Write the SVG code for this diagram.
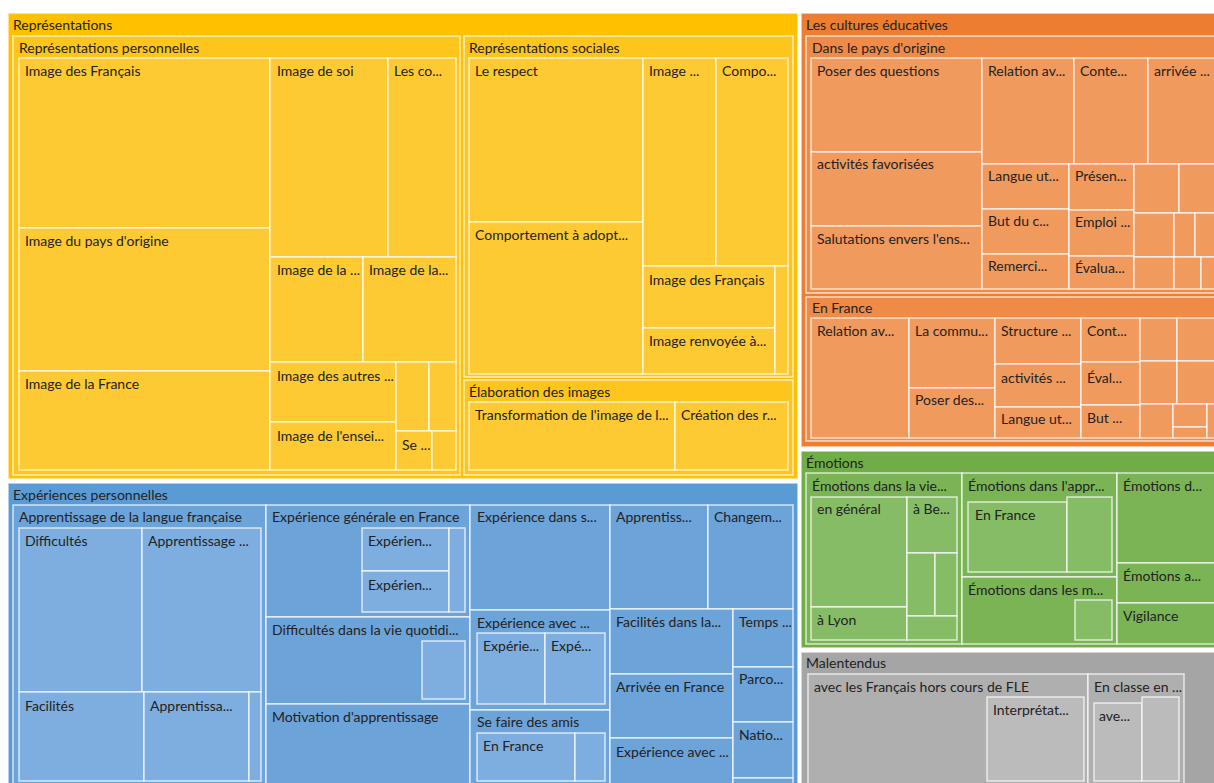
<svg xmlns="http://www.w3.org/2000/svg" width="1214" height="783" viewBox="0 0 1214 783">
<style>
rect{stroke:#ffffff;stroke-opacity:0.72;stroke-width:1.5}
.y1{fill:#FFC000}.y2{fill:#FEC51C}.y3{fill:#FDCA34}
.b1{fill:#5B9BD5}.b2{fill:#6CA3D9}.b3{fill:#7EAEDF}
.o1{fill:#ED7D31}.o2{fill:#EF8B47}.o3{fill:#F19A5E}
.g1{fill:#70AD47}.g2{fill:#7AB455}.g3{fill:#87BC66}
.k1{fill:#A5A5A5}.k2{fill:#AFAFAF}.k3{fill:#BBBBBB}
text{font-family:Lato,"Open Sans","Liberation Sans",sans-serif;font-size:14px;fill:#222222;transform:translateY(1px)}
</style>
<rect x="0" y="0" width="1214" height="783" fill="#ffffff" style="stroke:none"/>
<g id="connectors"/>
<g id="n-representations">
<rect class="y1" x="8" y="13" width="790" height="466"/><text x="13" y="29">Représentations</text>
<g id="n-rep-perso">
<rect class="y2" x="13" y="36" width="447" height="439"/><text x="19" y="52">Représentations personnelles</text>
<g id="n-rp-1"><rect class="y3" x="19" y="58" width="251" height="170"/><text x="25" y="75">Image des Français</text></g>
<g id="n-rp-2"><rect class="y3" x="19" y="228" width="251" height="143"/><text x="25" y="245">Image du pays d'origine</text></g>
<g id="n-rp-3"><rect class="y3" x="19" y="371" width="251" height="99"/><text x="25" y="388">Image de la France</text></g>
<g id="n-rp-4"><rect class="y3" x="270" y="58" width="118" height="199"/><text x="277" y="75">Image de soi</text></g>
<g id="n-rp-5"><rect class="y3" x="388" y="58" width="68" height="199"/><text x="394" y="75">Les co...</text></g>
<g id="n-rp-6"><rect class="y3" x="270" y="257" width="93" height="105"/><text x="277" y="274">Image de la ...</text></g>
<g id="n-rp-7"><rect class="y3" x="363" y="257" width="93" height="105"/><text x="369" y="274">Image de la...</text></g>
<g id="n-rp-8"><rect class="y3" x="270" y="362" width="126" height="60"/><text x="277" y="380">Image des autres ...</text></g>
<g id="n-rp-9"><rect class="y3" x="270" y="422" width="126" height="48"/><text x="277" y="440">Image de l'ensei...</text></g>
<g id="n-rp-10"><rect class="y3" x="396" y="362" width="33" height="69"/></g>
<g id="n-rp-11"><rect class="y3" x="429" y="362" width="27" height="69"/></g>
<g id="n-rp-12"><rect class="y3" x="396" y="431" width="36" height="39"/><text x="402" y="449">Se ...</text></g>
<g id="n-rp-13"><rect class="y3" x="432" y="431" width="24" height="39"/></g>
</g>
<g id="n-rep-soc">
<rect class="y2" x="464" y="36" width="329" height="341"/><text x="469" y="52">Représentations sociales</text>
<g id="n-rs-1"><rect class="y3" x="469" y="58" width="174" height="164"/><text x="475" y="75">Le respect</text></g>
<g id="n-rs-2"><rect class="y3" x="469" y="222" width="174" height="152"/><text x="475" y="239">Comportement à adopt...</text></g>
<g id="n-rs-3"><rect class="y3" x="643" y="58" width="73" height="208"/><text x="649" y="75">Image ...</text></g>
<g id="n-rs-4"><rect class="y3" x="716" y="58" width="72" height="208"/><text x="722" y="75">Compo...</text></g>
<g id="n-rs-5"><rect class="y3" x="643" y="266" width="132" height="62"/><text x="649" y="284">Image des Français</text></g>
<g id="n-rs-6"><rect class="y3" x="643" y="328" width="132" height="46"/><text x="649" y="345">Image renvoyée à...</text></g>
<g id="n-rs-7"><rect class="y3" x="775" y="266" width="13" height="108"/></g>
</g>
<g id="n-elab">
<rect class="y2" x="464" y="380" width="329" height="95"/><text x="469" y="396">Élaboration des images</text>
<g id="n-el-1"><rect class="y3" x="469" y="402" width="206" height="68"/><text x="475" y="419">Transformation de l'image de l...</text></g>
<g id="n-el-2"><rect class="y3" x="675" y="402" width="113" height="68"/><text x="681" y="419">Création des r...</text></g>
</g>
</g>
<g id="n-experiences">
<rect class="b1" x="8" y="483" width="790" height="310"/><text x="13" y="499">Expériences personnelles</text>
<g id="n-appr">
<rect class="b2" x="13" y="505" width="253" height="288"/><text x="19" y="521">Apprentissage de la langue française</text>
<g id="n-ap-1"><rect class="b3" x="19" y="528" width="123" height="164"/><text x="25" y="545">Difficultés</text></g>
<g id="n-ap-2"><rect class="b3" x="142" y="528" width="119" height="164"/><text x="148" y="545">Apprentissage ...</text></g>
<g id="n-ap-3"><rect class="b3" x="19" y="692" width="125" height="89"/><text x="25" y="710">Facilités</text></g>
<g id="n-ap-4"><rect class="b3" x="144" y="692" width="105" height="89"/><text x="150" y="710">Apprentissa...</text></g>
<g id="n-ap-5"><rect class="b3" x="249" y="692" width="12" height="89"/></g>
</g>
<g id="n-expgen">
<rect class="b2" x="266" y="505" width="204" height="112"/><text x="272" y="521">Expérience générale en France</text>
<g id="n-eg-1"><rect class="b3" x="362" y="528" width="87" height="43"/><text x="368" y="545">Expérien...</text></g>
<g id="n-eg-2"><rect class="b3" x="362" y="571" width="87" height="41"/><text x="368" y="589">Expérien...</text></g>
<g id="n-eg-3"><rect class="b3" x="449" y="528" width="16" height="84"/></g>
</g>
<g id="n-diffvie">
<rect class="b2" x="266" y="617" width="204" height="87"/><text x="272" y="634">Difficultés dans la vie quotidi...</text>
<g id="n-dv-1"><rect class="b3" x="422" y="641" width="43" height="58"/></g>
</g>
<g id="n-motiv"><rect class="b2" x="266" y="704" width="204" height="89"/><text x="272" y="721">Motivation d'apprentissage</text></g>
<g id="n-expdans"><rect class="b2" x="470" y="505" width="140" height="105"/><text x="477" y="521">Expérience dans s...</text></g>
<g id="n-expavec">
<rect class="b2" x="470" y="610" width="140" height="100"/><text x="477" y="627">Expérience avec ...</text>
<g id="n-ea-1"><rect class="b3" x="477" y="633" width="68" height="71"/><text x="483" y="650">Expérie...</text></g>
<g id="n-ea-2"><rect class="b3" x="545" y="633" width="60" height="71"/><text x="551" y="650">Expé...</text></g>
</g>
<g id="n-amis">
<rect class="b2" x="470" y="710" width="140" height="83"/><text x="477" y="726">Se faire des amis</text>
<g id="n-am-1"><rect class="b3" x="477" y="733" width="98" height="48"/><text x="483" y="750">En France</text></g>
<g id="n-am-2"><rect class="b3" x="575" y="733" width="30" height="48"/></g>
</g>
<g id="n-ex-1"><rect class="b2" x="610" y="505" width="98" height="104"/><text x="616" y="521">Apprentiss...</text></g>
<g id="n-ex-2"><rect class="b2" x="708" y="505" width="85" height="104"/><text x="714" y="521">Changem...</text></g>
<g id="n-ex-3"><rect class="b2" x="610" y="609" width="123" height="65"/><text x="616" y="626">Facilités dans la...</text></g>
<g id="n-ex-4"><rect class="b2" x="610" y="674" width="123" height="64"/><text x="616" y="691">Arrivée en France</text></g>
<g id="n-ex-5"><rect class="b2" x="610" y="738" width="123" height="55"/><text x="616" y="756">Expérience avec ...</text></g>
<g id="n-ex-6"><rect class="b2" x="733" y="609" width="60" height="58"/><text x="739" y="626">Temps ...</text></g>
<g id="n-ex-7"><rect class="b2" x="733" y="667" width="60" height="55"/><text x="739" y="683">Parco...</text></g>
<g id="n-ex-8"><rect class="b2" x="733" y="722" width="60" height="56"/><text x="739" y="739">Natio...</text></g>
<g id="n-ex-9"><rect class="b2" x="733" y="778" width="60" height="15"/></g>
</g>
<g id="n-cultures">
<rect class="o1" x="801" y="13" width="420" height="434"/><text x="806" y="29">Les cultures éducatives</text>
<g id="n-pays">
<rect class="o2" x="806" y="36" width="415" height="257"/><text x="812" y="52">Dans le pays d'origine</text>
<g id="n-po-1"><rect class="o3" x="811" y="58" width="171" height="94"/><text x="817" y="75">Poser des questions</text></g>
<g id="n-po-2"><rect class="o3" x="811" y="152" width="171" height="74"/><text x="817" y="168">activités favorisées</text></g>
<g id="n-po-3"><rect class="o3" x="811" y="226" width="171" height="63"/><text x="817" y="243">Salutations envers l'ens...</text></g>
<g id="n-po-4"><rect class="o3" x="982" y="58" width="92" height="106"/><text x="988" y="75">Relation av...</text></g>
<g id="n-po-5"><rect class="o3" x="1074" y="58" width="74" height="106"/><text x="1080" y="75">Conte...</text></g>
<g id="n-po-6"><rect class="o3" x="1148" y="58" width="73" height="106"/><text x="1154" y="75">arrivée ...</text></g>
<g id="n-po-7"><rect class="o3" x="982" y="164" width="87" height="45"/><text x="988" y="180">Langue ut...</text></g>
<g id="n-po-8"><rect class="o3" x="982" y="209" width="87" height="45"/><text x="988" y="225">But du c...</text></g>
<g id="n-po-9"><rect class="o3" x="982" y="254" width="87" height="35"/><text x="988" y="270">Remerci...</text></g>
<g id="n-po-10"><rect class="o3" x="1069" y="164" width="65" height="46"/><text x="1075" y="180">Présen...</text></g>
<g id="n-po-11"><rect class="o3" x="1069" y="210" width="65" height="46"/><text x="1075" y="226">Emploi ...</text></g>
<g id="n-po-12"><rect class="o3" x="1069" y="256" width="65" height="33"/><text x="1075" y="272">Évalua...</text></g>
<g id="n-po-13"><rect class="o3" x="1134" y="164" width="45" height="49"/></g>
<g id="n-po-14"><rect class="o3" x="1179" y="164" width="42" height="49"/></g>
<g id="n-po-15"><rect class="o3" x="1134" y="213" width="40" height="44"/></g>
<g id="n-po-16"><rect class="o3" x="1174" y="213" width="21" height="44"/></g>
<g id="n-po-17"><rect class="o3" x="1195" y="213" width="26" height="44"/></g>
<g id="n-po-18"><rect class="o3" x="1134" y="257" width="40" height="32"/></g>
<g id="n-po-19"><rect class="o3" x="1174" y="257" width="27" height="32"/></g>
<g id="n-po-20"><rect class="o3" x="1201" y="257" width="20" height="32"/></g>
</g>
<g id="n-enfrance">
<rect class="o2" x="806" y="297" width="415" height="144"/><text x="812" y="312">En France</text>
<g id="n-ef-1"><rect class="o3" x="811" y="318" width="98" height="120"/><text x="817" y="335">Relation av...</text></g>
<g id="n-ef-2"><rect class="o3" x="909" y="318" width="86" height="70"/><text x="915" y="335">La commu...</text></g>
<g id="n-ef-3"><rect class="o3" x="909" y="388" width="86" height="50"/><text x="915" y="404">Poser des...</text></g>
<g id="n-ef-4"><rect class="o3" x="995" y="318" width="86" height="46"/><text x="1001" y="335">Structure ...</text></g>
<g id="n-ef-5"><rect class="o3" x="995" y="364" width="86" height="43"/><text x="1001" y="382">activités ...</text></g>
<g id="n-ef-6"><rect class="o3" x="995" y="407" width="86" height="31"/><text x="1001" y="423">Langue ut...</text></g>
<g id="n-ef-7"><rect class="o3" x="1081" y="318" width="59" height="44"/><text x="1087" y="335">Cont...</text></g>
<g id="n-ef-8"><rect class="o3" x="1081" y="362" width="59" height="43"/><text x="1087" y="382">Éval...</text></g>
<g id="n-ef-9"><rect class="o3" x="1081" y="405" width="59" height="33"/><text x="1087" y="422">But ...</text></g>
<g id="n-ef-10"><rect class="o3" x="1140" y="318" width="37" height="43"/></g>
<g id="n-ef-11"><rect class="o3" x="1177" y="318" width="44" height="43"/></g>
<g id="n-ef-12"><rect class="o3" x="1140" y="361" width="37" height="43"/></g>
<g id="n-ef-13"><rect class="o3" x="1177" y="361" width="44" height="43"/></g>
<g id="n-ef-14"><rect class="o3" x="1140" y="404" width="33" height="34"/></g>
<g id="n-ef-15"><rect class="o3" x="1173" y="404" width="34" height="23"/></g>
<g id="n-ef-16"><rect class="o3" x="1173" y="427" width="34" height="11"/></g>
<g id="n-ef-17"><rect class="o3" x="1207" y="404" width="14" height="34"/></g>
</g>
</g>
<g id="n-emotions">
<rect class="g1" x="801" y="451" width="420" height="197"/><text x="806" y="467">Émotions</text>
<g id="n-em-vie">
<rect class="g2" x="806" y="473" width="156" height="171"/><text x="812" y="490">Émotions dans la vie...</text>
<g id="n-ev-1"><rect class="g3" x="811" y="497" width="96" height="110"/><text x="817" y="513">en général</text></g>
<g id="n-ev-2"><rect class="g3" x="811" y="607" width="96" height="33"/><text x="817" y="624">à Lyon</text></g>
<g id="n-ev-3"><rect class="g3" x="907" y="497" width="50" height="56"/><text x="913" y="513">à Be...</text></g>
<g id="n-ev-4"><rect class="g3" x="907" y="553" width="28" height="63"/></g>
<g id="n-ev-5"><rect class="g3" x="935" y="553" width="22" height="63"/></g>
<g id="n-ev-6"><rect class="g3" x="907" y="616" width="50" height="24"/></g>
</g>
<g id="n-em-appr">
<rect class="g2" x="962" y="473" width="155" height="104"/><text x="968" y="490">Émotions dans l'appr...</text>
<g id="n-ea2-1"><rect class="g3" x="968" y="502" width="99" height="70"/><text x="975" y="519">En France</text></g>
<g id="n-ea2-2"><rect class="g3" x="1067" y="497" width="45" height="75"/></g>
</g>
<g id="n-em-m">
<rect class="g2" x="962" y="577" width="155" height="67"/><text x="968" y="594">Émotions dans les m...</text>
<g id="n-em-m-1"><rect class="g3" x="1075" y="600" width="37" height="40"/></g>
</g>
<g id="n-em-d"><rect class="g2" x="1117" y="473" width="104" height="90"/><text x="1123" y="490">Émotions d...</text></g>
<g id="n-em-a"><rect class="g2" x="1117" y="563" width="104" height="40"/><text x="1123" y="580">Émotions a...</text></g>
<g id="n-em-vig"><rect class="g2" x="1117" y="603" width="104" height="41"/><text x="1123" y="620">Vigilance</text></g>
</g>
<g id="n-malentendus">
<rect class="k1" x="801" y="652" width="420" height="141"/><text x="806" y="667">Malentendus</text>
<g id="n-ma-hors">
<rect class="k2" x="808" y="674" width="280" height="119"/><text x="814" y="691">avec les Français hors cours de FLE</text>
<g id="n-ma-h1"><rect class="k3" x="987" y="697" width="97" height="84"/><text x="993" y="714">Interprétat...</text></g>
</g>
<g id="n-ma-classe">
<rect class="k2" x="1088" y="674" width="96" height="119"/><text x="1094" y="691">En classe en ...</text>
<g id="n-ma-c1"><rect class="k3" x="1094" y="703" width="48" height="78"/><text x="1099" y="720">ave...</text></g>
<g id="n-ma-c2"><rect class="k3" x="1142" y="697" width="37" height="84"/></g>
</g>
</g>
</svg>
